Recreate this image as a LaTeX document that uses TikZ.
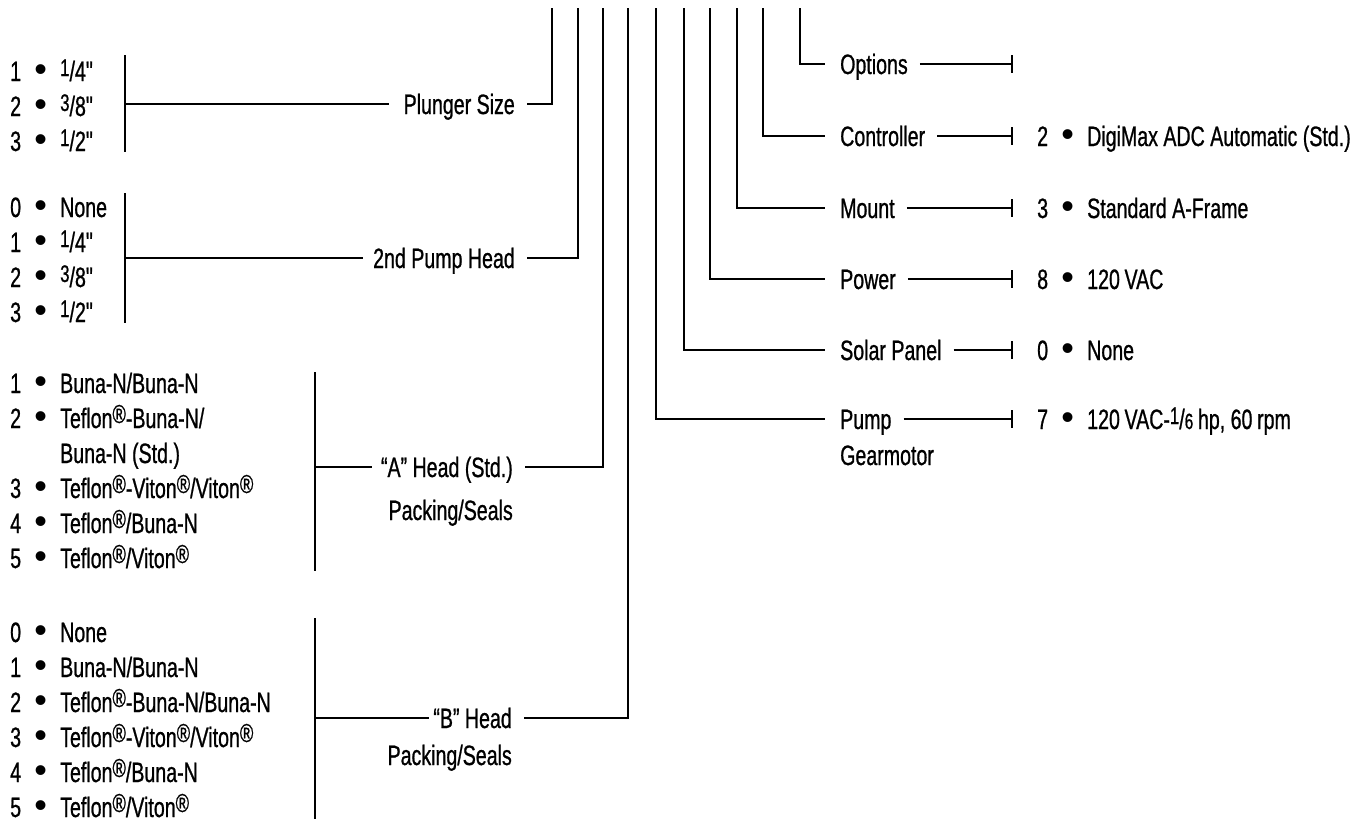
\documentclass[tikz,border=0pt]{standalone}
\usepackage{fontspec}
\setmainfont[FakeStretch=0.70,FakeBold=0.8]{Liberation Sans}
\newfontfamily\plainfont[FakeStretch=0.70,FakeBold=0.8]{Liberation Sans}
\newfontfamily\bulletfont{Liberation Sans}
\newcommand\myreg{\raisebox{5pt}{\fontsize{26}{26}\selectfont\char"00AE}}
\newcommand\fr[2]{\raisebox{5pt}{\fontsize{24}{24}\selectfont #1}/#2}
\newcommand\inch{{\plainfont\char"0022}}
\newcommand\opt[2]{\makebox[11pt][l]{#1}\makebox[39pt]{\bulletfont\fontsize{36}{36}\selectfont\char"2022}#2}
\tikzset{
  ln/.style={line width=1.7pt, line cap=butt},
  txt/.style={inner sep=0pt, font=\fontsize{28}{30}\selectfont},
  rowl/.style={txt, anchor=base west},
  lbl/.style={txt, anchor=base east},
  lbr/.style={txt, anchor=base west},
}
\begin{document}
\begin{tikzpicture}[x=1pt,y=-1pt]
\useasboundingbox (0,0) rectangle (1359,819);
% trunk coordinates
\foreach \n/\x/\y in {ps/552/104, ph/578/258, ah/603/467, bh/628/718, pg/656/419, sp/684/350, pw/710/279, mt/737/208, ct/763/136, op/800/64} {
  \coordinate (top-\n) at (\x,8);
  \coordinate (c-\n) at (\x,\y);
}
% ---------- left labels ----------
\node[lbl] (ps) at (515,114) {Plunger Size};
\node[lbl] (ph) at (515,268) {2nd Pump Head};
\node[lbl] (ah) at (513,477) {“A” Head (Std.)};
\node[lbl] (ah2) at (513,520) {Packing/Seals};
\node[lbl] (bh) at (512,728) {“B” Head};
\node[lbl] (bh2) at (512,765) {Packing/Seals};
\foreach \n in {ps,ph,ah,bh}{
  \draw[ln] (top-\n) -- (c-\n) -- ([shift={(12pt,10pt)}]\n.base east);
}
% left bars
\coordinate (bps-t) at (125,55);  \coordinate (bps-b) at (125,152); \coordinate (bps-m) at (125,104);
\coordinate (bph-t) at (125,193); \coordinate (bph-b) at (125,323); \coordinate (bph-m) at (125,258);
\coordinate (bah-t) at (315,372); \coordinate (bah-b) at (315,571); \coordinate (bah-m) at (315,467);
\coordinate (bbh-t) at (315,618); \coordinate (bbh-b) at (315,819); \coordinate (bbh-m) at (315,718);
\foreach \n/\g in {ps/14,ph/10,ah/9,bh/4}{
  \draw[ln] (b\n-t) -- (b\n-b);
  \draw[ln] (b\n-m) -- ([shift={(-\g pt,10pt)}]\n.base west);
}
% ---------- left option lists ----------
\node[rowl] (ps1) at (10,81)  {\opt{1}{\fr{1}{4}\inch}};
\node[rowl] (ps2) at (10,116) {\opt{2}{\fr{3}{8}\inch}};
\node[rowl] (ps3) at (10,151) {\opt{3}{\fr{1}{2}\inch}};

\node[rowl] (ph0) at (10,217) {\opt{0}{None}};
\node[rowl] (ph1) at (10,252) {\opt{1}{\fr{1}{4}\inch}};
\node[rowl] (ph2) at (10,287) {\opt{2}{\fr{3}{8}\inch}};
\node[rowl] (ph3) at (10,322) {\opt{3}{\fr{1}{2}\inch}};

\node[rowl] (ah1) at (10,393) {\opt{1}{Buna-N/Buna-N}};
\node[rowl] (ah2r) at (10,428) {\opt{2}{Teflon\myreg-Buna-N/}};
\node[rowl] (ah2b) at (60,463) {Buna-N (Std.)};
\node[rowl] (ah3) at (10,498) {\opt{3}{Teflon\myreg-Viton\myreg/Viton\myreg}};
\node[rowl] (ah4) at (10,533) {\opt{4}{Teflon\myreg/Buna-N}};
\node[rowl] (ah5) at (10,568) {\opt{5}{Teflon\myreg/Viton\myreg}};

\node[rowl] (bh0) at (10,642) {\opt{0}{None}};
\node[rowl] (bh1) at (10,677) {\opt{1}{Buna-N/Buna-N}};
\node[rowl] (bh2r) at (10,712) {\opt{2}{Teflon\myreg-Buna-N/Buna-N}};
\node[rowl] (bh3) at (10,747) {\opt{3}{Teflon\myreg-Viton\myreg/Viton\myreg}};
\node[rowl] (bh4) at (10,782) {\opt{4}{Teflon\myreg/Buna-N}};
\node[rowl] (bh5) at (10,817) {\opt{5}{Teflon\myreg/Viton\myreg}};
% ---------- right labels ----------
\node[lbr] (op) at (840,74)  {Options};
\node[lbr] (ct) at (840,146) {Controller};
\node[lbr] (mt) at (840,218) {Mount};
\node[lbr] (pw) at (840,289) {Power};
\node[lbr] (sp) at (840,360) {Solar Panel};
\node[lbr] (pg) at (840,429) {Pump};
\node[lbr] (pg2) at (840,465) {Gearmotor};
\foreach \n/\y in {op/64,ct/136,mt/208,pw/279,sp/350,pg/419}{
  \coordinate (tk-\n) at (1012,\y);
  \draw[ln] (top-\n) -- (c-\n) -- ([shift={(-15pt,10pt)}]\n.base west);
  \draw[ln] ([shift={(12pt,10pt)}]\n.base east) -- (tk-\n);
  \draw[ln] ([yshift=9pt]tk-\n) -- ([yshift=-9pt]tk-\n);
}
% ---------- right values ----------
\node[rowl] (ctv) at (1037,146) {\opt{2}{DigiMax ADC Automatic (Std.)}};
\node[rowl] (mtv) at (1037,218) {\opt{3}{Standard A-Frame}};
\node[rowl] (pwv) at (1037,289) {\opt{8}{120\,VAC}};
\node[rowl] (spv) at (1037,360) {\opt{0}{None}};
\node[rowl] (pgv) at (1037,429) {\opt{7}{120\,VAC-\fr{1}{{\fontsize{22}{22}\selectfont 6}}\,hp, 60\,rpm}};
\end{tikzpicture}
\end{document}
